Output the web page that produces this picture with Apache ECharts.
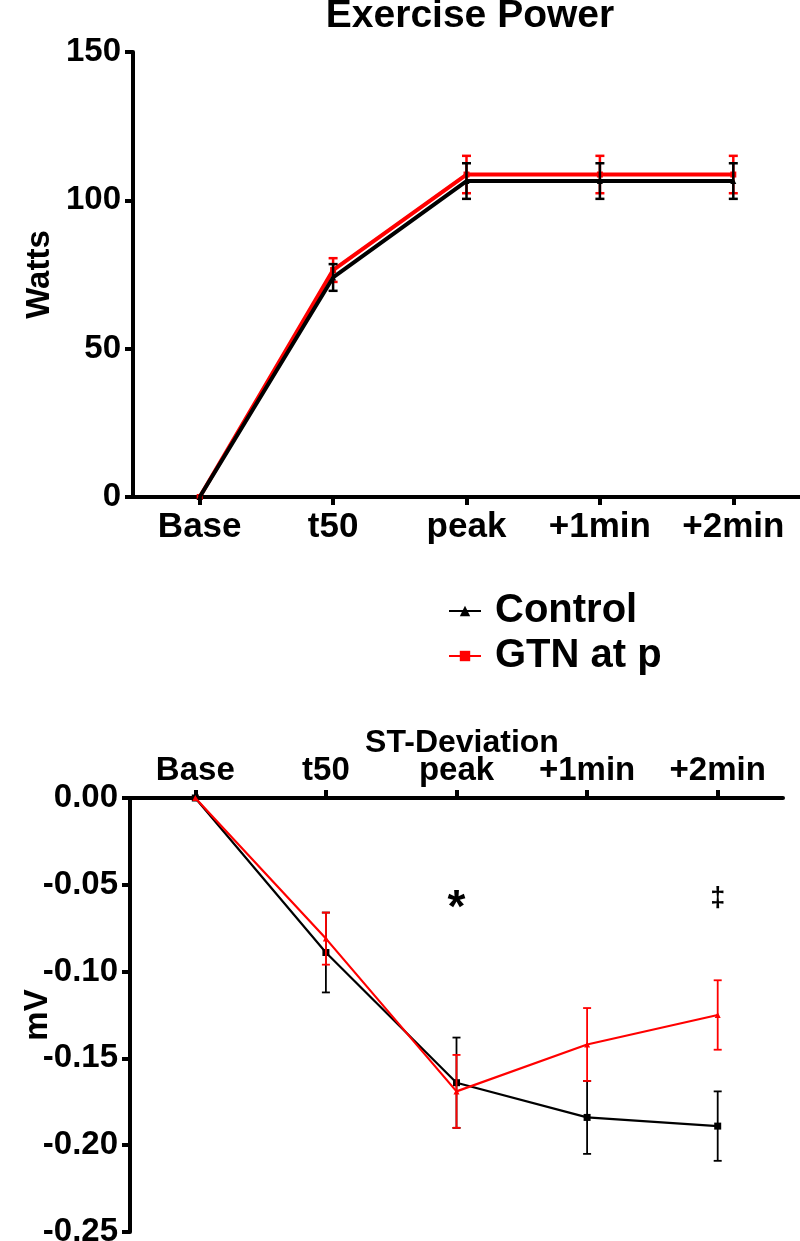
<!DOCTYPE html>
<html><head><meta charset="utf-8">
<script src="https://cdn.jsdelivr.net/npm/echarts/dist/echarts.min.js"></script>
<style>html,body{margin:0;padding:0;background:#fff}#c{width:800px;height:1241px}</style>
</head><body><div id="c"></div>
<script>
// ---- data ----
const categories = ['Base', 't50', 'peak', '+1min', '+2min'];
const seriesNames = ['Control', 'GTN at p'];
// Exercise Power (Watts)
const powerControl = [0, 74, 106.5, 106.5, 106.5];
const powerControlErr = [0, 4.5, 6, 6, 6];
const powerGTN = [0, 76.5, 108.7, 108.7, 108.7];
const powerGTNErr = [0, 4, 6.3, 6.3, 6.3];
// ST-Deviation (mV)
const stControl = [0, -0.089, -0.164, -0.184, -0.189];
const stControlErr = [0, 0.023, 0.026, 0.021, 0.020];
const stGTN = [0, -0.081, -0.169, -0.142, -0.125];
const stGTNErr = [0, 0.015, 0.021, 0.021, 0.020];
// significance annotations
const annoCategory = [2, 4];
const annoValue = [-0.064, -0.058];
const annoText = ['*', '\u2021'];

const FONT = 'Liberation Sans';
const BLACK = '#000000';
const RED = '#ff0000';

function errData(vals, errs) {
  return vals.map((v, i) => [i, v - errs[i], v + errs[i]]);
}
function errRender(color, lw, cap) {
  return function (params, api) {
    const i = api.value(0);
    const lo = api.coord([i, api.value(1)]);
    const hi = api.coord([i, api.value(2)]);
    if (Math.abs(hi[1] - lo[1]) < 0.5) return null;
    const style = { stroke: color, lineWidth: lw };
    return {
      type: 'group',
      children: [
        { type: 'line', shape: { x1: hi[0], y1: hi[1], x2: lo[0], y2: lo[1] }, style: style },
        { type: 'line', shape: { x1: hi[0] - cap, y1: hi[1], x2: hi[0] + cap, y2: hi[1] }, style: style },
        { type: 'line', shape: { x1: lo[0] - cap, y1: lo[1], x2: lo[0] + cap, y2: lo[1] }, style: style }
      ]
    };
  };
}

const axisLabelStyle = { color: BLACK, fontFamily: FONT, fontWeight: 'bold', fontSize: 33 };
const axisLineStyle = { lineStyle: { color: BLACK, width: 4 } };
const axisTickStyle = { show: true, length: 8, lineStyle: { color: BLACK, width: 4 } };

const chart = echarts.init(document.getElementById('c'), null, { renderer: 'canvas' });
chart.setOption({
  animation: false,
  backgroundColor: '#ffffff',
  title: [
    { text: 'Exercise Power', left: 465, top: -8, textAlign: 'center',
      textStyle: { fontFamily: FONT, fontWeight: 'bold', fontSize: 39, color: BLACK } },
    { text: 'ST-Deviation', left: 457, top: 722, textAlign: 'center',
      textStyle: { fontFamily: FONT, fontWeight: 'bold', fontSize: 32, color: BLACK } }
  ],
  legend: {
    data: seriesNames,
    orient: 'vertical',
    left: 443,
    top: 586,
    itemWidth: 32,
    itemHeight: 13,
    itemGap: 5,
    textStyle: { fontFamily: FONT, fontWeight: 'bold', fontSize: 40, color: BLACK, padding: [0, 0, 0, 9] }
  },
  grid: [
    { left: 133, top: 52, width: 667, height: 445, outerBoundsMode: 'none', containLabel: false },
    { left: 130, top: 798, width: 653, height: 434, outerBoundsMode: 'none', containLabel: false }
  ],
  xAxis: [
    { type: 'category', gridIndex: 0, data: categories, boundaryGap: true,
      axisLine: axisLineStyle, axisTick: Object.assign({ alignWithLabel: true }, axisTickStyle),
      axisLabel: Object.assign({ margin: 13, interval: 0 }, axisLabelStyle, { fontSize: 35 }), splitLine: { show: false } },
    { type: 'category', gridIndex: 1, data: categories, boundaryGap: true, position: 'top',
      axisLine: Object.assign({ onZero: false }, axisLineStyle),
      axisTick: Object.assign({ alignWithLabel: true }, axisTickStyle),
      axisLabel: Object.assign({ margin: 11, interval: 0 }, axisLabelStyle), splitLine: { show: false } }
  ],
  yAxis: [
    { type: 'value', gridIndex: 0, min: 0, max: 150, interval: 50,
      name: 'Watts', nameLocation: 'middle', nameGap: 77, nameRotate: 90, nameMoveOverlap: false,
      nameTextStyle: { fontFamily: FONT, fontWeight: 'bold', fontSize: 33, color: BLACK },
      axisLine: { show: true, lineStyle: { color: BLACK, width: 4 } }, axisTick: axisTickStyle,
      axisLabel: Object.assign({ margin: 12 }, axisLabelStyle), splitLine: { show: false } },
    { type: 'value', gridIndex: 1, min: -0.25, max: 0, interval: 0.05,
      name: 'mV', nameLocation: 'middle', nameGap: 76, nameRotate: 90, nameMoveOverlap: false,
      nameTextStyle: { fontFamily: FONT, fontWeight: 'bold', fontSize: 33, color: BLACK },
      axisLine: { show: true, lineStyle: { color: BLACK, width: 4 } }, axisTick: axisTickStyle,
      axisLabel: Object.assign({ margin: 12, formatter: v => v.toFixed(2) }, axisLabelStyle),
      splitLine: { show: false } }
  ],
  series: [
    // top chart
    { name: 'GTN at p', type: 'line', xAxisIndex: 0, yAxisIndex: 0, data: powerGTN,
      symbol: 'rect', symbolSize: 6, itemStyle: { color: RED }, lineStyle: { color: RED, width: 4 }, z: 2 },
    { name: 'gtnErrTop', type: 'custom', xAxisIndex: 0, yAxisIndex: 0, data: errData(powerGTN, powerGTNErr),
      encode: { x: 0, y: [1, 2] }, renderItem: errRender(RED, 2.5, 4.5), z: 3 },
    { name: 'Control', type: 'line', xAxisIndex: 0, yAxisIndex: 0, data: powerControl,
      symbol: 'triangle', symbolSize: 6, itemStyle: { color: BLACK }, lineStyle: { color: BLACK, width: 4 }, z: 4 },
    { name: 'ctrlErrTop', type: 'custom', xAxisIndex: 0, yAxisIndex: 0, data: errData(powerControl, powerControlErr),
      encode: { x: 0, y: [1, 2] }, renderItem: errRender(BLACK, 2.5, 4.5), z: 5 },
    // bottom chart
    { name: 'Control', type: 'line', xAxisIndex: 1, yAxisIndex: 1, data: stControl,
      symbol: 'rect', symbolSize: 7, itemStyle: { color: BLACK }, lineStyle: { color: BLACK, width: 2.2 }, z: 2 },
    { name: 'ctrlErrBot', type: 'custom', xAxisIndex: 1, yAxisIndex: 1, data: errData(stControl, stControlErr),
      encode: { x: 0, y: [1, 2] }, renderItem: errRender(BLACK, 1.8, 4), z: 3 },
    { name: 'GTN at p', type: 'line', xAxisIndex: 1, yAxisIndex: 1, data: stGTN,
      symbol: 'triangle', symbolSize: 6, itemStyle: { color: RED }, lineStyle: { color: RED, width: 2.2 }, z: 4 },
    { name: 'gtnErrBot', type: 'custom', xAxisIndex: 1, yAxisIndex: 1, data: errData(stGTN, stGTNErr),
      encode: { x: 0, y: [1, 2] }, renderItem: errRender(RED, 1.8, 4), z: 5 },
    // annotations
    { name: 'annotations', type: 'scatter', xAxisIndex: 1, yAxisIndex: 1, symbolSize: 0,
      data: annoCategory.map((c, i) => ({ value: [c, annoValue[i]], label: { formatter: annoText[i], fontSize: i === 0 ? 46 : 27 } })),
      label: { show: true, position: 'inside', color: BLACK, fontFamily: FONT, fontWeight: 'bold' },
      itemStyle: { opacity: 1 }, emphasis: { disabled: true },
      silent: true, z: 6 }
  ]
});
</script>
</body></html>
